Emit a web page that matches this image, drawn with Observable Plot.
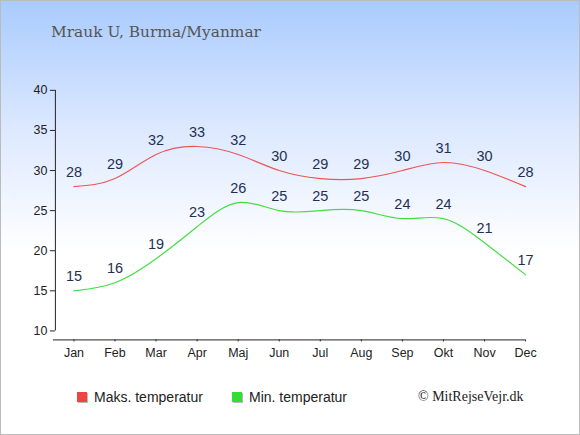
<!DOCTYPE html>
<html><head><meta charset="utf-8">
<script src="https://cdn.jsdelivr.net/npm/d3@7"></script>
<script src="https://cdn.jsdelivr.net/npm/@observablehq/plot@0.6"></script>
<style>
html,body{margin:0;padding:0;}
#wrap{position:relative;width:578px;height:433px;border:1px solid #bbb;background:linear-gradient(to bottom,#a9cbfd 0%,#dde9ff 30%,#ffffff 58%,#ffffff 100%);overflow:hidden;}
#title{position:absolute;left:50px;top:22px;font-family:"DejaVu Serif",Georgia,serif;font-size:15.4px;color:#555;}
#legend{position:absolute;left:0;top:388px;width:578px;font-family:"Liberation Sans",Arial,sans-serif;font-size:14px;color:#222;}
.item{position:absolute;top:0;display:flex;align-items:center;}
.sw{width:10px;height:10px;margin-right:7px;box-shadow:1px 1px 0 #bbb;}
#credit{position:absolute;left:417px;top:388px;font-family:"Liberation Serif","Times New Roman",serif;font-size:14px;color:#222;}
#chart{position:absolute;left:-1px;top:-1px;}
</style></head>
<body>
<div id="wrap">
<div id="title">Mrauk U, Burma/Myanmar</div>
<div id="chart"></div>
<div id="legend">
<div class="item" style="left:76px"><div class="sw" style="background:#ee4444"></div>Maks. temperatur</div>
<div class="item" style="left:231px"><div class="sw" style="background:#33dd33"></div>Min. temperatur</div>
</div>
<div id="credit">© MitRejseVejr.dk</div>
</div>
<script>
const months = ["Jan","Feb","Mar","Apr","Maj","Jun","Jul","Aug","Sep","Okt","Nov","Dec"];
const maxTemp = [28,29,32,33,32,30,29,29,30,31,30,28];
const minTemp = [15,16,19,23,26,25,25,25,24,24,21,17];
const yTicks = [10,15,20,25,30,35,40];

const maxData = months.map((m,i)=>({i, m, v:maxTemp[i]}));
const minData = months.map((m,i)=>({i, m, v:minTemp[i]}));
const base = 10 - 9/8.03;

const chart = Plot.plot({
  width: 580, height: 370,
  marginTop: 90, marginBottom: 30, marginLeft: 53, marginRight: 54,
  style: {background: "transparent", fontFamily: "Liberation Sans, Arial, sans-serif", fontSize: "12px", color: "#222"},
  x: {type: "linear", domain: [-0.5, 11]},
  y: {type: "linear", domain: [base, 40]},
  marks: [
    Plot.ruleY([base], {stroke: "#222", strokeWidth: 1}),
    Plot.ruleX([-0.5], {y1: 10, y2: 40, dx: 2, stroke: "#222", strokeWidth: 1}),
    Plot.axisY({ticks: yTicks, tickSize: 5, dx: 2, tickPadding: 3, fontSize: 12.5, label: null}),
    Plot.axisX({ticks: d3.range(12), tickFormat: i => months[i], tickSize: 2, tickPadding: 6, fontSize: 12.5, label: null}),
    Plot.line(maxData, {x: "i", y: "v", stroke: "#ee5555", strokeWidth: 1.2, curve: "natural"}),
    Plot.line(minData, {x: "i", y: "v", stroke: "#44dd44", strokeWidth: 1.2, curve: "natural"}),
    Plot.text(maxData, {x: "i", y: "v", text: d => String(d.v), dy: -14, fill: "#1f3152", fontSize: 14.5}),
    Plot.text(minData, {x: "i", y: "v", text: d => String(d.v), dy: -14, fill: "#1f3152", fontSize: 14.5})
  ]
});
document.getElementById("chart").appendChild(chart);
</script>
</body></html>
